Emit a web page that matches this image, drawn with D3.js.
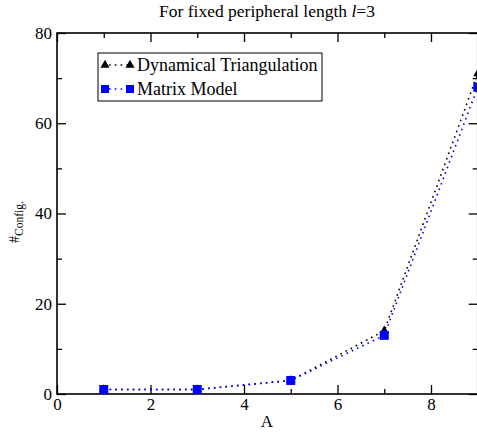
<!DOCTYPE html>
<html>
<head>
<meta charset="utf-8">
<script src="https://cdn.jsdelivr.net/npm/d3@7"></script>
<style>
  html, body { margin: 0; padding: 0; background: #fff; }
  svg { display: block; }
  svg text { font-family: "Liberation Serif", "Times New Roman", Times, Tinos, "DejaVu Serif", serif; }
</style>
</head>
<body>
<svg id="chart" width="477" height="433"></svg>
<script>
// Number of configurations versus area A, peripheral length l = 3
const areas = [1, 3, 5, 7, 9];
const triangulationCounts = [1, 1, 3, 14, 71];
const matrixModelCounts = [1, 1, 3, 13, 68];
const xMajorTicks = [0, 2, 4, 6, 8];
const xMinorTicks = [1, 3, 5, 7, 9];
const yMajorTicks = [0, 20, 40, 60, 80];
const yMinorTicks = [10, 30, 50, 70];

const svg = d3.select("#chart");
const plotLeft = 57, plotRight = 477.75, plotTop = 33, plotBottom = 394;

const x = d3.scaleLinear().domain([0, 9]).range([plotLeft, plotRight]);
const y = d3.scaleLinear().domain([0, 80]).range([plotBottom, plotTop]);

const MAJOR = 9, MINOR = 5;

function styleAxis(g) {
  g.attr("font-family", null);
  g.select(".domain").remove();
  g.selectAll(".tick line").attr("stroke", "#000").attr("stroke-width", 1.3);
  g.selectAll(".tick text").attr("fill", "#000").attr("font-size", 17);
}

// bottom axis: labelled major ticks + minor ticks, pointing inward
svg.append("g").attr("transform", `translate(0,${plotBottom})`)
  .call(d3.axisBottom(x).tickValues(xMajorTicks).tickSize(-MAJOR).tickPadding(4).tickFormat(d3.format("d")))
  .call(styleAxis);
svg.append("g").attr("transform", `translate(0,${plotBottom})`)
  .call(d3.axisBottom(x).tickValues(xMinorTicks).tickSize(-MINOR).tickFormat(""))
  .call(styleAxis);

// top axis ticks
svg.append("g").attr("transform", `translate(0,${plotTop})`)
  .call(d3.axisTop(x).tickValues(xMajorTicks).tickSize(-MAJOR).tickFormat(""))
  .call(styleAxis);
svg.append("g").attr("transform", `translate(0,${plotTop})`)
  .call(d3.axisTop(x).tickValues(xMinorTicks).tickSize(-MINOR).tickFormat(""))
  .call(styleAxis);

// left axis
svg.append("g").attr("transform", `translate(${plotLeft},0)`)
  .call(d3.axisLeft(y).tickValues(yMajorTicks).tickSize(-MAJOR).tickPadding(5).tickFormat(d3.format("d")))
  .call(styleAxis);
svg.append("g").attr("transform", `translate(${plotLeft},0)`)
  .call(d3.axisLeft(y).tickValues(yMinorTicks).tickSize(-MINOR).tickFormat(""))
  .call(styleAxis);

// right axis
svg.append("g").attr("transform", `translate(${plotRight},0)`)
  .call(d3.axisRight(y).tickValues(yMajorTicks).tickSize(-MAJOR).tickFormat(""))
  .call(styleAxis);
svg.append("g").attr("transform", `translate(${plotRight},0)`)
  .call(d3.axisRight(y).tickValues(yMinorTicks).tickSize(-MINOR).tickFormat(""))
  .call(styleAxis);

// frame
svg.append("rect")
  .attr("x", plotLeft).attr("y", plotTop)
  .attr("width", plotRight - plotLeft).attr("height", plotBottom - plotTop)
  .attr("fill", "none").attr("stroke", "#000").attr("stroke-width", 1.6);

// title
const title = svg.append("text")
  .attr("x", 267).attr("y", 16.5).attr("text-anchor", "middle")
  .attr("font-size", 17.5).attr("fill", "#000");
title.append("tspan").text("For fixed peripheral length ");
title.append("tspan").attr("font-style", "italic").text("l");
title.append("tspan").text("=3");

// axis titles
svg.append("text").attr("x", 267).attr("y", 427).attr("text-anchor", "middle")
  .attr("font-size", 17).attr("fill", "#000").text("A");

const ylab = svg.append("text")
  .attr("transform", "translate(19,222) rotate(-90)")
  .attr("text-anchor", "middle").attr("fill", "#000");
ylab.append("tspan").attr("font-size", 14).text("#");
ylab.append("tspan").attr("font-size", 11.5).attr("dy", 4).text("Config.");

// series
const triPts = areas.map((a, i) => [a, triangulationCounts[i]]);
const matPts = areas.map((a, i) => [a, matrixModelCounts[i]]);
const line = d3.line().x(d => x(d[0])).y(d => y(d[1]));
const tri = d3.symbol().type(d3.symbolTriangle).size(36);

const plot = svg.append("g");
plot.append("path").datum(triPts).attr("d", line)
  .attr("fill", "none").attr("stroke", "#000").attr("stroke-width", 1.6)
  .attr("stroke-dasharray", "1.6,4.2");
plot.selectAll(".tri").data(triPts).join("path")
  .attr("transform", d => `translate(${x(d[0])},${y(d[1])})`)
  .attr("d", tri).attr("fill", "#000");

plot.append("path").datum(matPts).attr("d", line)
  .attr("fill", "none").attr("stroke", "#0000ff").attr("stroke-width", 1.6)
  .attr("stroke-dasharray", "1.6,4.2");
plot.selectAll(".sq").data(matPts).join("rect")
  .attr("x", d => x(d[0]) - 4.5).attr("y", d => y(d[1]) - 4.5)
  .attr("width", 9).attr("height", 9).attr("fill", "#0000ff");

// legend
const lg = svg.append("g");
lg.append("rect").attr("x", 98).attr("y", 53).attr("width", 224).attr("height", 48)
  .attr("fill", "#fff").attr("stroke", "#000").attr("stroke-width", 1);
const legendItems = [
  { label: "Dynamical Triangulation", color: "#000", shape: "tri", cy: 65 },
  { label: "Matrix Model", color: "#0000ff", shape: "sq", cy: 89 }
];
legendItems.forEach(it => {
  lg.append("line").attr("x1", 105).attr("x2", 130).attr("y1", it.cy).attr("y2", it.cy)
    .attr("stroke", it.color).attr("stroke-width", 1.6).attr("stroke-dasharray", "1.6,4.2")
    .attr("stroke-dashoffset", -4);
  [105, 130].forEach(cx => {
    if (it.shape === "tri") {
      lg.append("path").attr("transform", `translate(${cx},${it.cy})`)
        .attr("d", tri).attr("fill", it.color);
    } else {
      lg.append("rect").attr("x", cx - 4).attr("y", it.cy - 4)
        .attr("width", 8).attr("height", 8).attr("fill", it.color);
    }
  });
  lg.append("text").attr("x", 137).attr("y", it.cy + 6)
    .attr("font-size", 18).attr("fill", "#000").text(it.label);
});
</script>
</body>
</html>
